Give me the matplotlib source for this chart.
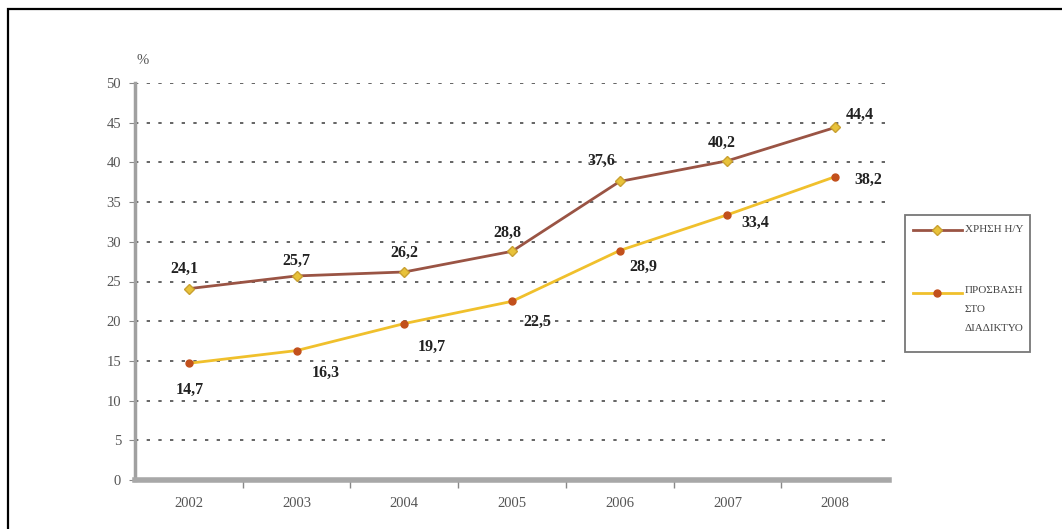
import matplotlib.pyplot as plt
import numpy as np
from matplotlib.patches import Rectangle
from matplotlib.lines import Line2D

years = ['2002', '2003', '2004', '2005', '2006', '2007', '2008']
pc_use = [24.1, 25.7, 26.2, 28.8, 37.6, 40.2, 44.4]
internet = [14.7, 16.3, 19.7, 22.5, 28.9, 33.4, 38.2]
labels = ['ΧΡΗΣΗ Η/Υ', 'ΠΡΟΣΒΑΣΗ\nΣΤΟ\nΔΙΑΔΙΚΤΥΟ']

# offsets of value labels (points)
off_pc = [(-3, 14), (0, 11), (0, 14), (-3, 13), (-13, 15), (-4, 13), (18, 9)]
off_net = [(1, -19), (21, -16), (20, -17), (18, -15), (17, -12), (20, -6), (24, -2)]

line1_c = '#9a5444'
mark1_c = '#e8c23a'
line2_c = '#f0c02c'
mark2_c = '#c2501c'
serif = 'Liberation Serif'

fig = plt.figure(figsize=(10.62, 5.29), dpi=100)
fig.patches.append(Rectangle((8 / 1062, -0.1), 1.2, 1 - 9 / 529 + 0.1,
                             transform=fig.transFigure, fill=False,
                             edgecolor='black', linewidth=1.6))

ax = fig.add_axes([135 / 1062, 49 / 529, 754 / 1062, 397 / 529])
x = np.arange(len(years))

ax.plot(x, pc_use, color=line1_c, linewidth=2, marker='D', markersize=5,
        markerfacecolor=mark1_c, markeredgecolor='#c9a030', zorder=3)
ax.plot(x, internet, color=line2_c, linewidth=2, marker='o', markersize=5,
        markerfacecolor=mark2_c, markeredgecolor=mark2_c, zorder=3)

for xi, v, o in zip(x, pc_use, off_pc):
    ax.annotate(f'{v:.1f}'.replace('.', ','), (xi, v), xytext=o,
                textcoords='offset points', ha='center', va='center',
                fontsize=11.5, fontweight='bold', family=serif, color='#222222')
for xi, v, o in zip(x, internet, off_net):
    ax.annotate(f'{v:.1f}'.replace('.', ','), (xi, v), xytext=o,
                textcoords='offset points', ha='center', va='center',
                fontsize=11.5, fontweight='bold', family=serif, color='#222222')

ax.set_xlim(-0.5, len(years) - 0.5)
ax.set_ylim(0, 50)
ax.set_yticks(np.arange(0, 51, 5))
ax.set_xticks(x)
ax.set_xticklabels(years)
ax.set_xticks(np.arange(0.5, len(years) - 0.5, 1), minor=True)

ax.grid(axis='y', color='#4a4a4a', linestyle=(0, (2, 5)), linewidth=1.2)
ax.set_axisbelow(True)
for s in ['top', 'right']:
    ax.spines[s].set_visible(False)
ax.spines['left'].set_color('#a0a0a0')
ax.spines['left'].set_linewidth(2.5)
ax.spines['bottom'].set_color('#a8a8a8')
ax.spines['bottom'].set_linewidth(4)

ax.tick_params(axis='y', length=4, color='#888888', labelsize=10.5,
               labelcolor='#555555', pad=6)
ax.tick_params(axis='x', which='major', length=0, labelsize=10.5,
               labelcolor='#555555', pad=12)
ax.tick_params(axis='x', which='minor', length=6, color='#888888', width=1)
for t in ax.get_xticklabels() + ax.get_yticklabels():
    t.set_family(serif)

fig.text(143 / 1062, 1 - 60 / 529, '%', fontsize=10.5, color='#555555',
         family=serif, ha='center', va='center')

# legend box
fig.patches.append(Rectangle((905 / 1062, 1 - 352 / 529), 125 / 1062, 137 / 529,
                             transform=fig.transFigure, fill=True,
                             facecolor='white', edgecolor='#777777',
                             linewidth=1.3))
hx = [913 / 1062, 962 / 1062]
y1 = 1 - 230 / 529
y2 = 1 - 293 / 529
fig.lines.append(Line2D(hx, [y1, y1], transform=fig.transFigure,
                        color=line1_c, linewidth=2))
fig.lines.append(Line2D([np.mean(hx)], [y1], transform=fig.transFigure,
                        marker='D', markersize=5, markerfacecolor=mark1_c,
                        markeredgecolor='#c9a030', linestyle='none'))
fig.lines.append(Line2D(hx, [y2, y2], transform=fig.transFigure,
                        color=line2_c, linewidth=2))
fig.lines.append(Line2D([np.mean(hx)], [y2], transform=fig.transFigure,
                        marker='o', markersize=5, markerfacecolor=mark2_c,
                        markeredgecolor=mark2_c, linestyle='none'))
fig.text(965 / 1062, y1, labels[0], fontsize=8, family=serif, color='#444444',
         ha='left', va='center')
fig.text(965 / 1062, y2 + 7 / 529, labels[1], fontsize=8, family=serif,
         color='#444444', ha='left', va='top', linespacing=2.4)

fig.savefig('out.png', dpi=100, facecolor='white')
